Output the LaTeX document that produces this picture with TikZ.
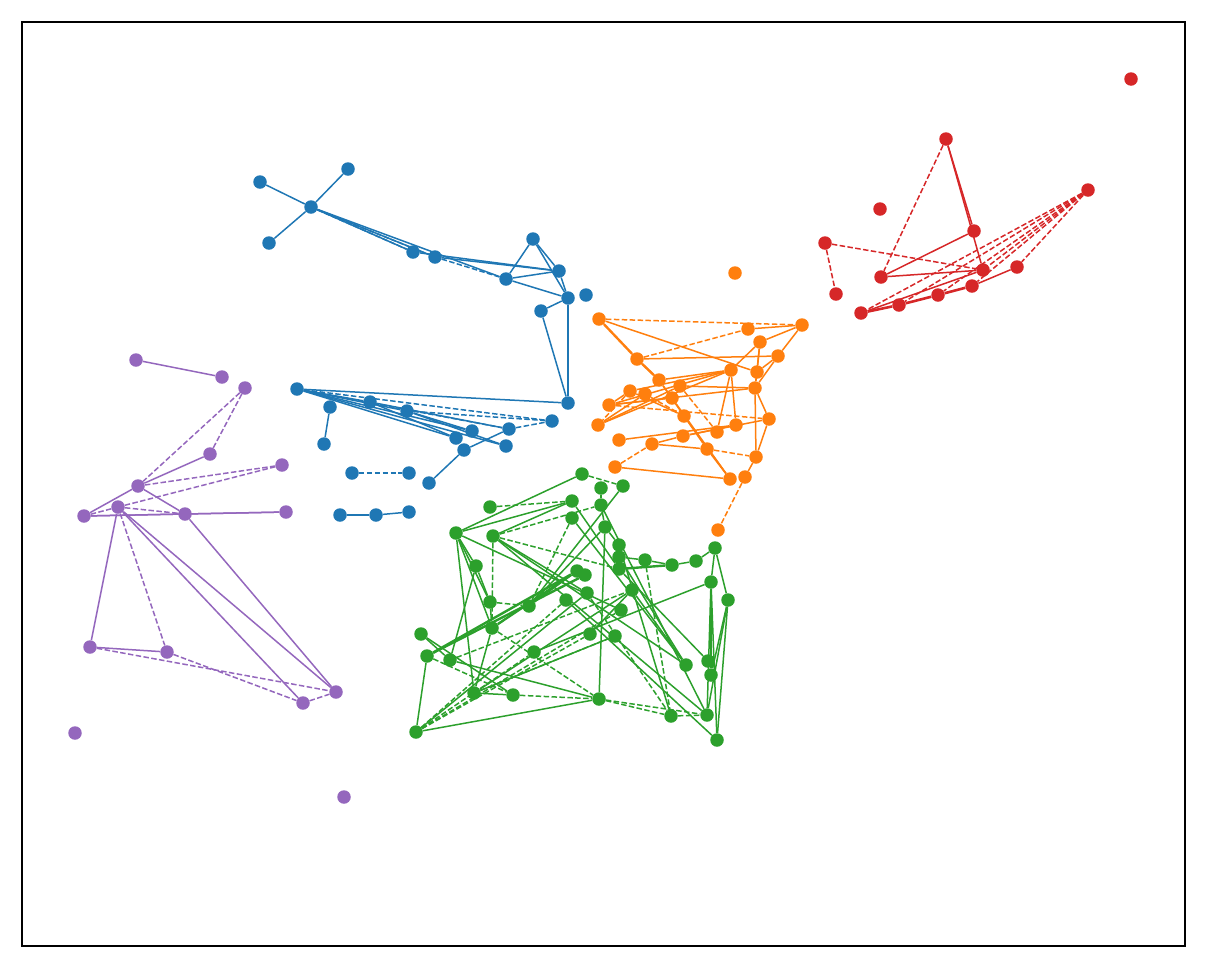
\documentclass[tikz,border=0pt]{standalone}
\usetikzlibrary{backgrounds}
\definecolor{tblue}{HTML}{1F77B4}
\definecolor{torange}{HTML}{FF7F0E}
\definecolor{tgreen}{HTML}{2CA02C}
\definecolor{tred}{HTML}{D62728}
\definecolor{tpurple}{HTML}{9467BD}
\tikzset{
  dot/.style={circle,inner sep=0pt,minimum size=13.5pt,draw=none},
  bn/.style={dot,fill=tblue}, on/.style={dot,fill=torange}, gn/.style={dot,fill=tgreen},
  rn/.style={dot,fill=tred}, pn/.style={dot,fill=tpurple},
  ln/.style={line width=1.5pt},
  dl/.style={line width=1.5pt,dash pattern=on 5.5pt off 2.4pt},
}
\begin{document}
\begin{tikzpicture}[x=1pt,y=-1pt]
\useasboundingbox (0,0) rectangle (1217,978);
\draw[line width=1.2pt] (22,22) rectangle (1185,946);
% blue nodes
\foreach \n/\x/\y in {b1/260/182,b2/348/169,b3/311/207,b4/269/243,b5/413/252,b6/435/257,b7/533/239,b8/559/271,b9/506/279,b10/568/298,b11/586/295,b12/541/311,b13/568/403,b14/297/389,b15/330/407,b16/370/402,b17/407/411,b18/324/444,b19/456/438,b20/472/431,b21/509/429,b22/552/421,b23/464/450,b24/506/446,b25/352/473,b26/409/473,b27/429/483,b28/340/515,b29/376/515,b30/409/512}
  \node[bn] (\n) at (\x,\y) {};
% purple nodes
\foreach \n/\x/\y in {p1/136/360,p2/222/377,p3/245/388,p4/210/454,p5/282/465,p6/138/486,p7/84/516,p8/118/507,p9/185/514,p10/286/512,p11/90/647,p12/167/652,p13/303/703,p14/336/692,p15/75/733,p16/344/797}
  \node[pn] (\n) at (\x,\y) {};
% orange nodes
\foreach \n/\x/\y in {o1/735/273,o2/599/319,o3/748/329,o4/802/325,o5/760/342,o6/637/359,o7/778/356,o8/731/370,o9/757/372,o10/659/380,o11/680/386,o12/630/391,o13/645/394,o14/755/388,o15/672/398,o16/609/405,o17/684/416,o18/769/419,o19/598/425,o20/736/425,o21/717/432,o22/619/440,o23/652/444,o24/683/436,o25/707/449,o26/756/457,o27/615/467,o28/730/479,o29/745/477,o30/718/530}
  \node[on] (\n) at (\x,\y) {};
% red nodes
\foreach \n/\x/\y in {r1/1131/79,r2/946/139,r3/880/209,r4/1088/190,r5/974/231,r6/825/243,r7/881/277,r8/983/270,r9/1017/267,r10/836/294,r11/861/313,r12/899/305,r13/938/295,r14/972/286}
  \node[rn] (\n) at (\x,\y) {};
% green nodes
\foreach \n/\x/\y in {g1/582/474,g2/601/488,g3/623/486,g4/490/507,g5/572/501,g6/601/505,g7/572/518,g8/456/533,g9/493/536,g10/605/527,g11/619/545,g12/715/548,g13/619/557,g14/645/560,g15/672/565,g16/696/561,g17/476/566,g18/619/569,g19/577/571,g20/585/575,g21/711/582,g22/728/600,g23/490/602,g24/529/606,g25/566/600,g26/587/593,g27/632/590,g28/621/610,g29/590/634,g30/615/636,g31/492/628,g32/421/634,g33/427/656,g34/450/660,g35/534/652,g36/686/665,g37/708/661,g38/711/675,g39/474/693,g40/513/695,g41/599/699,g42/671/716,g43/707/715,g44/416/732,g45/717/740}
  \node[gn] (\n) at (\x,\y) {};
\begin{scope}[on background layer]
% blue edges
\foreach \a/\b in {b1/b3,b2/b3,b3/b4,b3/b5,b3/b6,b3/b9,b6/b8,b5/b8,b9/b7,b9/b8,b9/b10,b7/b8,b7/b10,b8/b10,b10/b12,b10/b13,b12/b13,b14/b13,b14/b16,b14/b17,b14/b19,b14/b20,b14/b24,b16/b21,b17/b24,b17/b20,b15/b18,b23/b21,b23/b27,b28/b29,b29/b30,b19/b16}
  \draw[ln,tblue] (\a) -- (\b);
\foreach \a/\b in {b3/b5,b6/b9,b14/b21,b14/b22,b17/b22,b21/b22,b25/b26,b3/b6}
  \draw[dl,tblue] (\a) -- (\b);
% purple edges
\foreach \a/\b in {p1/p2,p4/p6,p6/p7,p6/p9,p7/p9,p9/p10,p9/p14,p8/p11,p8/p13,p8/p14,p11/p12,p7/p10}
  \draw[ln,tpurple] (\a) -- (\b);
\foreach \a/\b in {p3/p6,p3/p4,p6/p5,p8/p5,p7/p8,p8/p9,p8/p12,p11/p14,p12/p13,p13/p14}
  \draw[dl,tpurple] (\a) -- (\b);
% orange edges
\foreach \a/\b in {o2/o9,o6/o7,o6/o10,o10/o15,o15/o28,o3/o4,o5/o4,o5/o8,o5/o9,o5/o14,o7/o4,o7/o9,o7/o14,o8/o20,o8/o21,o8/o10,o8/o12,o8/o16,o14/o26,o14/o18,o11/o14,o18/o26,o18/o24,o19/o8,o22/o20,o23/o24,o24/o20,o23/o25,o27/o28,o25/o28,o26/o29,o12/o16,o13/o19,o16/o15,o19/o11,o12/o17,o17/o28,o10/o25,o9/o14,o16/o14}
  \draw[ln,torange] (\a) -- (\b);
\draw[line width=2.4pt,torange] (o2) -- (o6);
\draw[line width=2.4pt,torange] (o6) -- (o10);
\foreach \a/\b in {o2/o4,o6/o3,o16/o18,o27/o23,o25/o26,o29/o30,o11/o21,o12/o19,o13/o17}
  \draw[dl,torange] (\a) -- (\b);
% red edges
\foreach \a/\b in {r2/r5,r2/r8,r7/r5,r7/r8,r14/r9,r11/r8}
  \draw[ln,tred] (\a) -- (\b);
\foreach \a/\b in {r11/r12,r12/r13,r13/r14}
  \draw[line width=2.6pt,tred] (\a) -- (\b);
\foreach \a/\b in {r2/r7,r6/r10,r6/r8,r4/r11,r4/r12,r4/r13,r4/r14,r4/r9,r4/r8}
  \draw[dl,tred] (\a) -- (\b);
% green edges
\foreach \a/\b in {g1/g8,g8/g5,g8/g17,g8/g31,g8/g23,g8/g39,g8/g28,g9/g5,g9/g36,g9/g43,g9/g26,g6/g10,g10/g11,g11/g13,g13/g14,g14/g15,g15/g16,g16/g12,g12/g21,g12/g22,g21/g43,g21/g38,g22/g38,g22/g45,g21/g45,g22/g43,g44/g26,g44/g41,g39/g27,g39/g30,g39/g40,g34/g41,g32/g40,g32/g34,g6/g43,g7/g36,g11/g42,g10/g41,g17/g23,g23/g31,g31/g39,g24/g10,g24/g3,g24/g19,g29/g27,g35/g21,g33/g44,g17/g34,g5/g18,g2/g6,g13/g36,g25/g45,g18/g37,g27/g36}
  \draw[ln,tgreen] (\a) -- (\b);
\foreach \a/\b in {g33/g19,g33/g20,g18/g15,g31/g19}
  \draw[line width=2.4pt,tgreen] (\a) -- (\b);
\foreach \a/\b in {g1/g3,g4/g5,g9/g6,g9/g18,g9/g31,g44/g25,g44/g29,g44/g28,g44/g35,g40/g41,g41/g42,g41/g43,g42/g43,g7/g24,g23/g24,g33/g40,g39/g30,g31/g41,g26/g42,g14/g42,g34/g27}
  \draw[dl,tgreen] (\a) -- (\b);
\end{scope}
\end{tikzpicture}
\end{document}
